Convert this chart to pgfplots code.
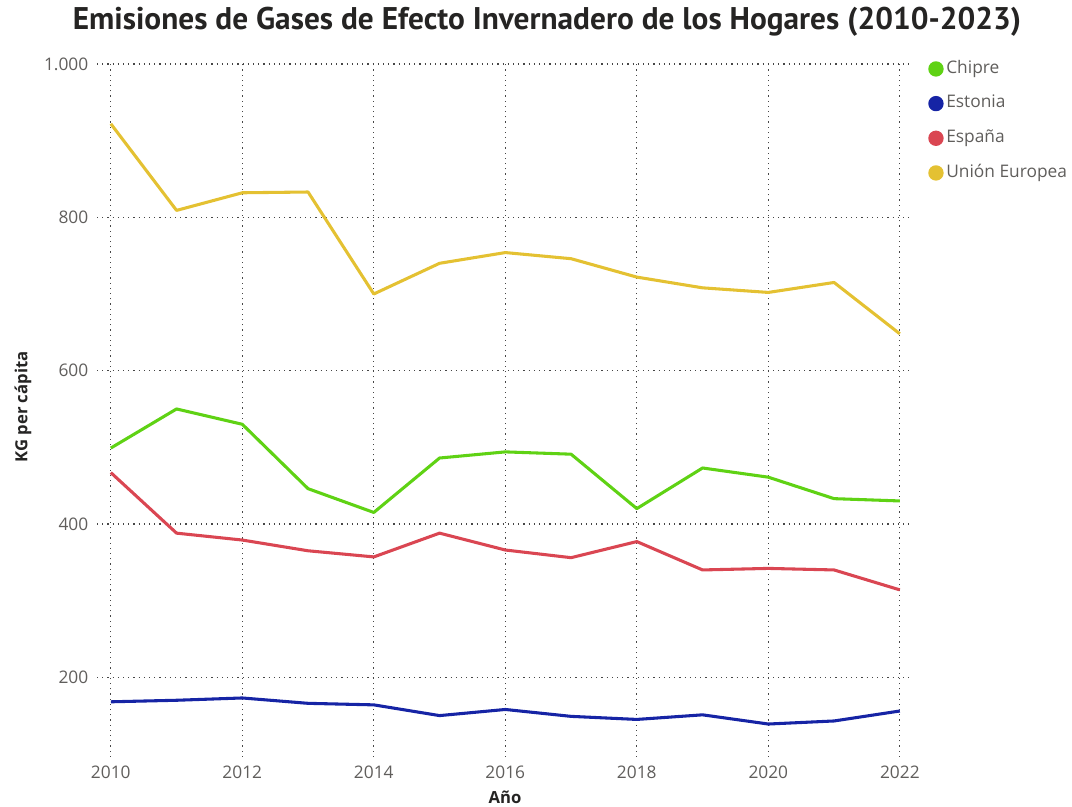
\documentclass[border=0pt]{standalone}
\usepackage{fontspec}
\setmainfont{Open Sans}
\newfontfamily\dinfont{PT Sans}
\usepackage{pgfplots}
\pgfplotsset{compat=1.18}
\definecolor{cchipre}{RGB}{95,210,20}
\definecolor{cestonia}{RGB}{22,36,165}
\definecolor{cespana}{RGB}{218,70,82}
\definecolor{cue}{RGB}{228,193,50}
\definecolor{ctick}{RGB}{96,94,92}
\definecolor{cgrid}{RGB}{70,70,70}
\definecolor{ctitle}{RGB}{37,36,35}
\begin{document}
\begin{tikzpicture}
\useasboundingbox (0,0) rectangle (804pt,605.25pt);
\begin{axis}[
  at={(72.75pt,37.5pt)}, anchor=south west,
  scale only axis, width=610.5pt, height=519.75pt,
  xmin=2009.79, xmax=2022.17, ymin=96, ymax=1000,
  xtick={2010,2012,...,2022}, ytick={200,400,600,800,1000},
  axis line style={draw=none},
  major tick length=0pt,
  grid=major,
  major grid style={cgrid, line width=0.9pt, dash pattern=on 0.9pt off 3pt},
  /pgf/number format/assume math mode=true,
  x tick label style={/pgf/number format/1000 sep={}, font=\fontsize{13pt}{15pt}\selectfont, text=ctick, yshift=-3pt},
  y tick label style={/pgf/number format/1000 sep={.}, font=\fontsize{13pt}{15pt}\selectfont, text=ctick, xshift=-3pt},
  legend style={at={(1.016,1.012)}, anchor=north west, draw=none, fill=none,
    font=\fontsize{13pt}{15pt}\selectfont, text=ctick,
    nodes={inner sep=1pt, text height=10pt, text depth=3.5pt},
    row sep=10.5pt, column sep=1pt},
  legend cell align=left,
  legend image code/.code={\fill[#1] (0pt,0pt) circle (4.6pt);},
  every axis plot/.append style={line width=2.3pt, line join=round},
]
\addplot[cchipre] coordinates {(2010,499)(2011,550)(2012,530)(2013,446)(2014,415)(2015,486)(2016,494)(2017,491)(2018,420)(2019,473)(2020,461)(2021,433)(2022,430)};
\addlegendentry{Chipre}
\addplot[cestonia] coordinates {(2010,168)(2011,170)(2012,173)(2013,166)(2014,164)(2015,150)(2016,158)(2017,149)(2018,145)(2019,151)(2020,139)(2021,143)(2022,156)};
\addlegendentry{Estonia}
\addplot[cespana] coordinates {(2010,467)(2011,388)(2012,379)(2013,365)(2014,357)(2015,388)(2016,366)(2017,356)(2018,377)(2019,340)(2020,342)(2021,340)(2022,314)};
\addlegendentry{España}
\addplot[cue] coordinates {(2010,922)(2011,809)(2012,832)(2013,833)(2014,700)(2015,740)(2016,754)(2017,746)(2018,722)(2019,708)(2020,702)(2021,715)(2022,648)};
\addlegendentry{Unión Europea}
\end{axis}
\node[font=\dinfont\bfseries\fontsize{23.5pt}{27pt}\selectfont, text=ctitle] at (410.25pt,588.75pt) {Emisiones de Gases de Efecto Invernadero de los Hogares (2010-2023)};
\node[font=\bfseries\fontsize{12.5pt}{15pt}\selectfont, rotate=90, text=ctitle] at (17.25pt,300pt) {KG per cápita};
\node[font=\bfseries\fontsize{12.5pt}{15pt}\selectfont, anchor=south, inner sep=0pt, text=ctitle] at (378.75pt,2.5pt) {Año};
\end{tikzpicture}
\end{document}
